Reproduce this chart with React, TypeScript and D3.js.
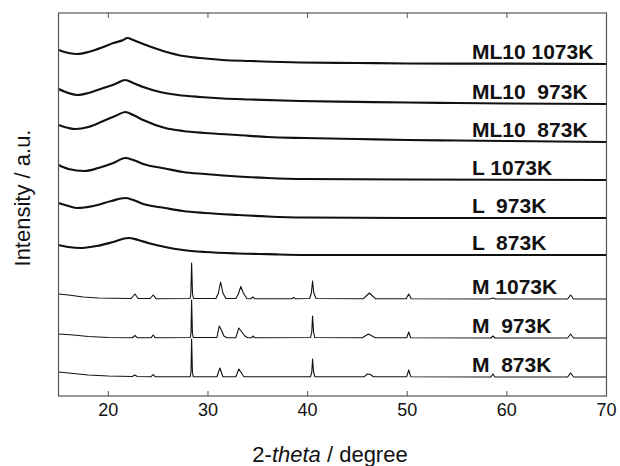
import React from "react";
import * as d3 from "d3";

// ---- data (2-theta in degree, intensity in a.u. relative to each trace's own baseline) ----
const xTicks = [20, 30, 40, 50, 60, 70];
const labels = ["ML10 1073K", "ML10  973K", "ML10  873K", "L 1073K", "L  973K", "L  873K", "M 1073K", "M  973K", "M  873K"];
const offsets = [332, 292, 254, 216, 178, 141, 97, 58, 19];

const ml10_1073: [number, number][] = [[15,14],[16,11],[16.9,10],[18,12],[19.5,17],[20.5,21],[21.5,24],[21.9,26],[22.5,24],[23.5,20],[25.2,14],[27,9],[29.2,6],[31.5,4],[34.2,3],[39.2,1.5],[45,1],[50,0.5],[60,0.3],[70,0]];
const ml10_973: [number, number][] = [[15,15],[16,11],[16.9,9],[18,11],[19.5,16],[20.7,20],[21.7,24],[22.5,21],[23.5,17],[25.2,12],[27,9],[29.2,7],[31.5,5.5],[34.2,4.5],[39.2,3],[45,2.2],[50,1.5],[55,1],[60,0.5],[70,0]];
const ml10_873: [number, number][] = [[15,17],[16,14],[16.7,13],[18,15],[19.5,21],[20.7,26],[21.7,30],[22.5,27],[23.5,22],[25.7,14],[27.5,11],[29.7,9],[33,7],[36,5],[39.7,4],[45,3],[50,2],[55,1.5],[60,1],[70,0]];
const l_1073: [number, number][] = [[15,15],[16,11],[17.6,9],[19,12],[20.5,17],[21.7,22],[22.5,20],[23.5,16],[25.7,11.5],[27.5,8],[29.7,6],[33,3.5],[36,2],[39.7,1],[50,0.5],[70,0]];
const l_973: [number, number][] = [[15,15],[16,12],[16.9,10],[18.5,12],[20.3,17],[21.7,20],[22.5,18],[23.5,14],[25.7,10],[27.5,7],[29.7,5],[33,3],[36,1.5],[39.7,0.5],[50,0],[70,0]];
const l_873: [number, number][] = [[15,10],[16,8],[17.2,7],[18.8,9],[20.5,13],[22,17],[23,15],[24,12],[25.7,8],[27.5,5],[29.7,3],[33,1.5],[36,0.8],[39.7,0],[70,0]];

const m_1073: [number, number][] = [[15,5],[16,4],[17.5,2],[19,1],[22.3,0.5],[22.67,5],[23,0.5],[24.2,0.5],[24.5,4],[24.8,0.3],[28.2,0.5],[28.28,5],[28.36,36],[28.45,5],[28.55,0.5],[30.8,0.5],[31.05,6],[31.27,17],[31.5,6],[31.8,0.5],[32.8,0.5],[33.05,5],[33.3,12.5],[33.55,6],[33.9,0.5],[34.3,0.3],[34.5,2],[34.7,0.3],[38.4,0.3],[38.6,1.5],[38.8,0.3],[40.2,0.5],[40.38,6],[40.5,18],[40.62,6],[40.85,0.5],[45.6,0.3],[46.2,6],[46.8,0.3],[49.9,0.3],[50.15,5],[50.4,0.3],[58.3,0],[58.6,1],[58.9,0],[66.1,0],[66.4,4],[66.7,0],[70,0]];
const m_973: [number, number][] = [[15,4],[16.5,3],[18,1.5],[20,0.5],[22.4,0.3],[22.67,2.5],[22.9,0.3],[24.3,0.3],[24.5,3],[24.7,0.3],[28.22,0.5],[28.3,5],[28.36,38],[28.44,5],[28.52,0.5],[30.9,0.5],[31.13,12],[31.3,9],[31.6,2],[31.9,0.3],[32.8,0.3],[33.1,10],[33.4,6],[33.7,2],[34,0.3],[34.4,0.3],[34.5,2],[34.7,0.3],[40.3,0.5],[40.42,6],[40.5,22],[40.6,6],[40.72,0.5],[45.5,0.3],[46.1,4],[46.8,0.3],[49.95,0.3],[50.15,6],[50.35,0.3],[58.4,0],[58.6,2],[58.8,0],[66.1,0],[66.4,4],[66.7,0],[70,0]];
const m_873: [number, number][] = [[15,5],[16.5,3.5],[18,2],[20,1],[22.4,0.5],[22.67,2],[22.9,0.5],[24.3,0.3],[24.5,2.5],[24.7,0.3],[28.22,0.3],[28.3,5],[28.36,38],[28.44,5],[28.52,0.3],[30.9,0.3],[31.2,9],[31.5,0.3],[32.8,0.3],[33.1,8],[33.3,5],[33.6,0.3],[40.3,0.3],[40.42,5],[40.5,18],[40.6,5],[40.72,0.3],[45.7,0.3],[46,3],[46.3,2.5],[46.6,0.3],[49.95,0.3],[50.15,7],[50.35,0.3],[58.4,0],[58.6,3],[58.8,0],[66.1,0],[66.4,4],[66.7,0],[70,0]];

const traces = [ml10_1073, ml10_973, ml10_873, l_1073, l_973, l_873, m_1073, m_973, m_873];
const crystalline = [false, false, false, false, false, false, true, true, true];

// ---- layout ----
const W = 620, H = 466;
const M = { left: 58.5, right: 606.5, top: 13, bottom: 396 };
const FONT = "'Liberation Sans', Arial, Helvetica, sans-serif";

export default function App() {
  const x = d3.scaleLinear().domain([15, 70]).range([M.left, M.right]);
  const y = d3.scaleLinear().domain([0, 383]).range([M.bottom, M.top]);

  return (
    <svg width={W} height={H} style={{ position: "absolute", left: 0, top: 0, background: "#fff" }} fontFamily={FONT}>
      {traces.map((tr, i) => {
        const off = offsets[i];
        const gen = d3.line<[number, number]>()
          .x((d) => x(d[0]))
          .y((d) => y(off + d[1]))
          .curve(crystalline[i] ? d3.curveLinear : d3.curveMonotoneX);
        return (
          <path key={"t" + i} d={gen(tr) || ""} fill="none" stroke="#111"
            strokeWidth={crystalline[i] ? 1.1 : 2.2} strokeLinejoin="round" />
        );
      })}
      {labels.map((lb, i) => (
        <text key={"l" + i} x={472} y={y(offsets[i] + 5)} fontSize={21} fontWeight="bold"
          fill="#111" style={{ whiteSpace: "pre" }} xmlSpace="preserve">{lb}</text>
      ))}
      <rect x={M.left} y={M.top} width={M.right - M.left} height={M.bottom - M.top}
        fill="none" stroke="#555" strokeWidth={1.2} />
      {xTicks.map((t) => (
        <g key={"k" + t}>
          <line x1={x(t)} x2={x(t)} y1={M.bottom} y2={M.bottom - 5} stroke="#555" strokeWidth={1} />
          <line x1={x(t)} x2={x(t)} y1={M.top} y2={M.top + 5} stroke="#555" strokeWidth={1} />
          <text x={x(t)} y={416} fontSize={18} textAnchor="middle" fill="#111">{t}</text>
        </g>
      ))}
      <text x={330} y={462} fontSize={22} textAnchor="middle" fill="#111">
        2-<tspan fontStyle="italic">theta</tspan> / degree
      </text>
      <text transform="translate(30,198) rotate(-90)" fontSize={22} textAnchor="middle" fill="#111">
        Intensity / a.u.
      </text>
    </svg>
  );
}
